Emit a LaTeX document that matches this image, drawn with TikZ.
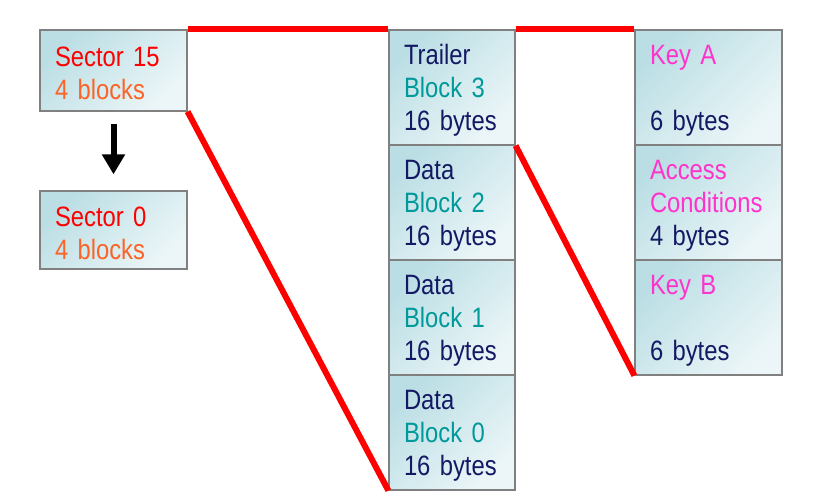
\documentclass[tikz,border=0pt]{standalone}
\usepackage{fontspec}
\setmainfont[FakeStretch=0.85]{Liberation Sans}
\usepackage{tikz}
\usetikzlibrary{arrows.meta,positioning}
\definecolor{secred}{RGB}{255,0,0}
\definecolor{secorange}{RGB}{250,100,40}
\definecolor{navy}{RGB}{20,25,100}
\definecolor{tealtxt}{RGB}{0,153,153}
\definecolor{keypink}{RGB}{255,51,204}
\definecolor{boxdark}{RGB}{186,222,228}
\definecolor{boxlight}{RGB}{236,246,248}

\begin{document}
\begin{tikzpicture}[x=1pt,y=-1pt]
\tikzset{blk/.style = {draw=gray, line width=1.2pt, top color=boxdark, bottom color=boxlight,
    shading angle=45, inner xsep=15pt, inner ysep=0pt, align=left,
    execute at begin node=\rule{0pt}{26pt},
    font=\fontsize{28}{33}\selectfont}}
\tikzset{link/.style = {draw=secred, line width=6pt}}
\useasboundingbox (0,0) rectangle (829,502);
%sector boxes
\node[blk, text width=117pt, minimum height=81pt] (s15) at (113.5,70.5)
  {\textcolor{secred}{Sector 15}\\\textcolor{secorange}{4 blocks}};
\node[blk, text width=117pt, minimum height=78pt] (s0) at (113.5,230)
  {\textcolor{secred}{Sector 0}\\\textcolor{secorange}{4 blocks}};
%blocks of sector 15
\node[blk, text width=96pt, minimum height=115pt] (blk3) at (452,87.5)
  {\textcolor{navy}{Trailer}\\\textcolor{tealtxt}{Block 3}\\\textcolor{navy}{16 bytes}};
\node[blk, text width=96pt, minimum height=115pt] (blk2) at (452,202.5)
  {\textcolor{navy}{Data}\\\textcolor{tealtxt}{Block 2}\\\textcolor{navy}{16 bytes}};
\node[blk, text width=96pt, minimum height=115pt] (blk1) at (452,317.5)
  {\textcolor{navy}{Data}\\\textcolor{tealtxt}{Block 1}\\\textcolor{navy}{16 bytes}};
\node[blk, text width=96pt, minimum height=115pt] (blk0) at (452,432.5)
  {\textcolor{navy}{Data}\\\textcolor{tealtxt}{Block 0}\\\textcolor{navy}{16 bytes}};
%trailer contents
\node[blk, text width=117pt, minimum height=115pt] (keya) at (708.5,87.5)
  {\textcolor{keypink}{Key A}\\~\\\textcolor{navy}{6 bytes}};
\node[blk, text width=117pt, minimum height=115pt] (acc) at (708.5,202.5)
  {\textcolor{keypink}{Access}\\\textcolor{keypink}{Conditions}\\\textcolor{navy}{4 bytes}};
\node[blk, text width=117pt, minimum height=115pt] (keyb) at (708.5,317.5)
  {\textcolor{keypink}{Key B}\\~\\\textcolor{navy}{6 bytes}};
%red zoom lines
\draw[link] (s15.north east) -- (blk3.north west);
\draw[link] (s15.south east) -- (blk0.south west);
\draw[link] (blk3.north east) -- (keya.north west);
\draw[link] (blk3.south east) -- (keyb.south west);
%arrow between sectors
\draw[line width=6pt, -{Triangle[width=22pt,length=20pt]}, shorten <=12pt, shorten >=16pt] (s15) -- (s0);
\end{tikzpicture}
\end{document}
